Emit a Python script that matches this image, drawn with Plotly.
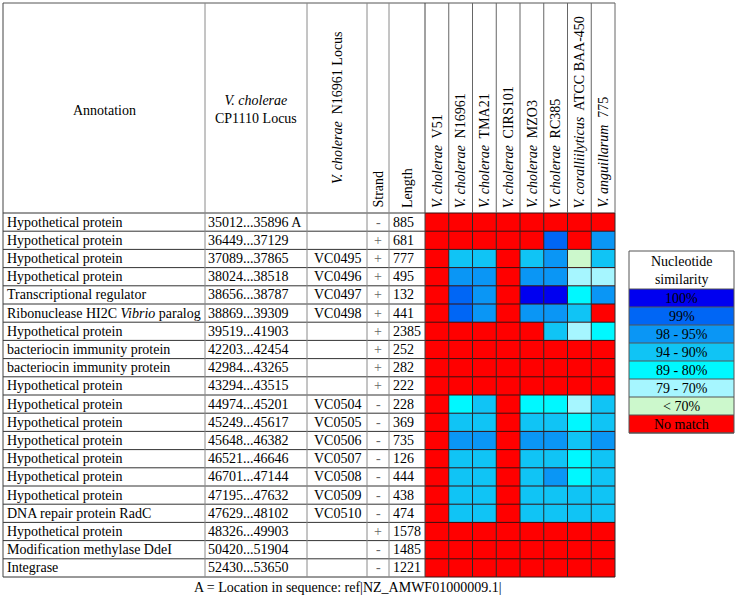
import plotly.graph_objects as go

W, H = 737, 598

# ---------------- data ----------------
annotation = [
    "Hypothetical protein", "Hypothetical protein", "Hypothetical protein",
    "Hypothetical protein", "Transcriptional regulator",
    "Ribonuclease HI2C <i>Vibrio</i> paralog", "Hypothetical protein",
    "bacteriocin immunity protein", "bacteriocin immunity protein",
    "Hypothetical protein", "Hypothetical protein", "Hypothetical protein",
    "Hypothetical protein", "Hypothetical protein", "Hypothetical protein",
    "Hypothetical protein", "DNA repair protein RadC", "Hypothetical protein",
    "Modification methylase DdeI", "Integrase",
]
cp1110_locus = [
    "35012...35896 A", "36449...37129", "37089...37865", "38024...38518",
    "38656...38787", "38869...39309", "39519...41903", "42203...42454",
    "42984...43265", "43294...43515", "44974...45201", "45249...45617",
    "45648...46382", "46521...46646", "46701...47144", "47195...47632",
    "47629...48102", "48326...49903", "50420...51904", "52430...53650",
]
n16961_locus = [
    "", "", "VC0495", "VC0496", "VC0497", "VC0498", "", "", "", "",
    "VC0504", "VC0505", "VC0506", "VC0507", "VC0508", "VC0509", "VC0510",
    "", "", "",
]
strand = ["-", "+", "+", "+", "+", "+", "+", "+", "+", "+",
          "-", "-", "-", "-", "-", "-", "-", "+", "-", "-"]
length = [885, 681, 777, 495, 132, 441, 2385, 252, 282, 222,
          228, 369, 735, 126, 444, 438, 474, 1578, 1485, 1221]

genomes = [
    "<i>V. cholerae</i>\u00a0 V51",
    "<i>V. cholerae</i>\u00a0 N16961",
    "<i>V. cholerae</i>\u00a0 TMA21",
    "<i>V. cholerae</i>\u00a0 CIRS101",
    "<i>V. cholerae</i>\u00a0 MZO3",
    "<i>V. cholerae</i>\u00a0 RC385",
    "<i>V. coralliilyticus</i>\u00a0 ATCC BAA-450",
    "<i>V. anguillarum</i>\u00a0 775",
]

# similarity class per gene (rows) x genome (cols)
# 0=100%, 1=99%, 2=98-95%, 3=94-90%, 4=89-80%, 5=79-70%, 6=<70%, 7=No match
similarity = [
    [7, 7, 7, 7, 7, 7, 7, 7],
    [7, 7, 7, 7, 7, 1, 7, 2],
    [7, 3, 3, 7, 3, 2, 6, 3],
    [7, 2, 2, 7, 2, 2, 5, 5],
    [7, 1, 2, 7, 0, 0, 4, 2],
    [7, 1, 2, 7, 2, 2, 3, 7],
    [7, 7, 7, 7, 7, 3, 5, 4],
    [7, 7, 7, 7, 7, 7, 7, 7],
    [7, 7, 7, 7, 7, 7, 7, 7],
    [7, 7, 7, 7, 7, 7, 7, 7],
    [7, 4, 3, 7, 4, 4, 5, 3],
    [7, 3, 3, 7, 3, 3, 4, 3],
    [7, 2, 2, 7, 2, 2, 3, 2],
    [7, 3, 3, 7, 3, 3, 4, 3],
    [7, 3, 3, 7, 3, 2, 4, 3],
    [7, 3, 3, 7, 3, 3, 3, 3],
    [7, 3, 3, 7, 3, 3, 3, 3],
    [7, 7, 7, 7, 7, 7, 7, 7],
    [7, 7, 7, 7, 7, 7, 7, 7],
    [7, 7, 7, 7, 7, 7, 7, 7],
]

legend_labels = ["100%", "99%", "98 - 95%", "94 - 90%", "89 - 80%",
                 "79 - 70%", "< 70%", "No match"]
legend_colors = ["#0000f0", "#0066f5", "#0a96f5", "#10c4f5", "#00f8ff",
                 "#a6f6ff", "#ccf8cc", "#ff0000"]

footnote = "A = Location in sequence: ref|NZ_AMWF01000009.1|"

# ---------------- layout geometry ----------------
FONT = "Liberation Serif"
FS = 14
TOP = 3
HEAD_BOT = 213
NROW = len(annotation)
BOT = 577
ROW_H = (BOT - HEAD_BOT) / NROW
col_edges = [3, 205, 307, 367, 389, 425]
NG = len(genomes)
CELL_W = 23.75
heat_edges = [col_edges[-1] + CELL_W * i for i in range(NG + 1)]
RIGHT = heat_edges[-1]

LEG_X0, LEG_X1 = 629, 734
LEG_TOP = 251
LEG_HEAD = 38
LEG_ROW = 18

n = len(legend_colors)
colorscale = []
for i, c in enumerate(legend_colors):
    colorscale.append([i / n, c])
    colorscale.append([(i + 1) / n, c])

fig = go.Figure()

# main heatmap
fig.add_trace(go.Heatmap(
    z=similarity,
    x0=heat_edges[0] + CELL_W / 2, dx=CELL_W,
    y0=HEAD_BOT + ROW_H / 2, dy=ROW_H,
    colorscale=colorscale, zmin=-0.5, zmax=n - 0.5,
    showscale=False, hoverinfo="skip",
))

# legend swatches
fig.add_trace(go.Heatmap(
    z=[[i] for i in range(n)],
    x0=(LEG_X0 + LEG_X1) / 2, dx=LEG_X1 - LEG_X0,
    y0=LEG_TOP + LEG_HEAD + LEG_ROW / 2, dy=LEG_ROW,
    colorscale=colorscale, zmin=-0.5, zmax=n - 0.5,
    showscale=False, hoverinfo="skip",
))

shapes = []
def line(x0, y0, x1, y1, color="#333333", w=1):
    shapes.append(dict(type="line", x0=x0, y0=y0, x1=x1, y1=y1,
                       xref="x", yref="y", line=dict(color=color, width=w)))

# table horizontal lines
line(col_edges[0], TOP, RIGHT, TOP, "#555555")
for r in range(NROW + 1):
    y = HEAD_BOT + r * ROW_H
    line(col_edges[0], y, col_edges[-1], y, "#333333")
    line(col_edges[-1], y, RIGHT, y, "#3a1010")
# table vertical lines
for i, x in enumerate(col_edges):
    line(x, TOP, x, BOT, "#8a8a8a" if 0 < i < len(col_edges) - 1 else "#444444")
for x in heat_edges[1:]:
    line(x, TOP, x, HEAD_BOT, "#666666")
    line(x, HEAD_BOT, x, BOT, "#2a2a2a")

# legend borders
legend_bot = LEG_TOP + LEG_HEAD + n * LEG_ROW
shapes.append(dict(type="rect", x0=LEG_X0, y0=LEG_TOP, x1=LEG_X1, y1=legend_bot,
                   xref="x", yref="y", line=dict(color="#555555", width=1)))
for i in range(n + 1):
    y = LEG_TOP + LEG_HEAD + i * LEG_ROW
    line(LEG_X0, y, LEG_X1, y, "#555555")

ann = []
def txt(x, y, s, size=FS, xanchor="left", yanchor="middle", angle=0, color="black"):
    ann.append(dict(x=x, y=y, xref="x", yref="y", text=s, showarrow=False,
                    xanchor=xanchor, yanchor=yanchor, textangle=angle,
                    borderpad=0,
                    font=dict(family=FONT, size=size, color=color)))

# header
hmid = (TOP + HEAD_BOT) / 2
txt((col_edges[0] + col_edges[1]) / 2, hmid + 2, "Annotation", xanchor="center")
txt((col_edges[1] + col_edges[2]) / 2, hmid + 1,
    "<i>V. cholerae</i><br>CP1110 Locus", xanchor="center")
txt((col_edges[2] + col_edges[3]) / 2, hmid,
    "<i>V. cholerae</i>\u00a0 N16961 Locus", xanchor="center", yanchor="middle", angle=-90)
txt((col_edges[3] + col_edges[4]) / 2, HEAD_BOT - 4, "Strand",
    xanchor="center", yanchor="bottom", angle=-90)
txt((col_edges[4] + col_edges[5]) / 2, HEAD_BOT - 4, "Length",
    xanchor="center", yanchor="bottom", angle=-90)
for j, g in enumerate(genomes):
    txt(heat_edges[j] + CELL_W / 2, HEAD_BOT - 4, g,
        xanchor="center", yanchor="bottom", angle=-90)

# rows
for r in range(NROW):
    yc = HEAD_BOT + (r + 0.5) * ROW_H
    txt(col_edges[0] + 3, yc, annotation[r])
    txt(col_edges[1] + 2, yc, cp1110_locus[r])
    txt((col_edges[2] + col_edges[3]) / 2, yc, n16961_locus[r], xanchor="center")
    txt((col_edges[3] + col_edges[4]) / 2, yc, strand[r], xanchor="center",
        color="#666666")
    txt(col_edges[4] + 3, yc, str(length[r]))

# legend texts
txt((LEG_X0 + LEG_X1) / 2, LEG_TOP + LEG_HEAD / 2, "Nucleotide<br>similarity",
    size=14, xanchor="center")
for i, lab in enumerate(legend_labels):
    txt((LEG_X0 + LEG_X1) / 2, LEG_TOP + LEG_HEAD + (i + 0.5) * LEG_ROW, lab,
        size=14, xanchor="center")

# footnote
txt(347, 587, footnote, size=14, xanchor="center")

fig.update_layout(
    width=W, height=H,
    margin=dict(l=0, r=0, t=0, b=0),
    paper_bgcolor="white", plot_bgcolor="white",
    xaxis=dict(range=[0, W], visible=False, fixedrange=True),
    yaxis=dict(range=[H, 0], visible=False, fixedrange=True),
    shapes=shapes, annotations=ann,
    showlegend=False,
)

fig.write_html(
    "out.html",
    config={"displayModeBar": False, "staticPlot": True},
    post_script="document.body.style.margin='0';document.body.style.overflow='hidden';",
)
